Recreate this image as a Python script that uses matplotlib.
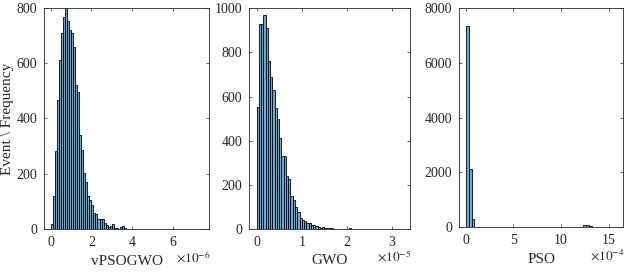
import numpy as np
import matplotlib
matplotlib.use("Agg")
import matplotlib.pyplot as plt

# histogram counts (x values in units of the axis multiplier)
vpso_start, vpso_width = 0.0, 0.1
vpso_counts = [19, 120, 282, 465, 612, 709, 767, 812, 751, 721, 709, 658, 522, 497,
               341, 287, 203, 170, 120, 104, 88, 58, 56, 37, 37, 37, 22, 13, 6, 10,
               19, 4, 3, 0, 7, 10, 2]

gwo_start, gwo_width = 0.0, 0.05
gwo_counts = [551, 931, 931, 972, 913, 763, 690, 632, 550, 500, 410, 330, 330, 238,
              225, 150, 130, 100, 75, 50, 38, 35, 25, 28, 15, 15, 12, 8, 5, 10, 5,
              3, 2, 2, 1, 0, 0, 0, 0, 0, 0, 3]

pso_start, pso_width = 0.0, 0.3
pso_counts = [7360, 2110, 280] + [0] * 38 + [85, 90, 40]

panels = [
    ("vPSOGWO", r"$\times10^{-6}$", vpso_start, vpso_width, vpso_counts,
     (-0.33, 7.8), [0, 2, 4, 6], (0, 800), [0, 200, 400, 600, 800]),
    ("GWO", r"$\times10^{-5}$", gwo_start, gwo_width, gwo_counts,
     (-0.17, 3.4), [0, 1, 2, 3], (0, 1000), [0, 200, 400, 600, 800, 1000]),
    ("PSO", r"$\times10^{-4}$", pso_start, pso_width, pso_counts,
     (-0.71, 16.5), [0, 5, 10, 15], (0, 8000), [0, 2000, 4000, 6000, 8000]),
]

boxes = [
    [0.0705, 0.158, 0.2650, 0.813],
    [0.3990, 0.159, 0.2581, 0.810],
    [0.7356, 0.165, 0.2630, 0.804],
]

plt.rcParams['font.family'] = ['Liberation Serif', 'DejaVu Serif']
plt.rcParams['mathtext.fontset'] = 'stix'

fig = plt.figure(figsize=(6.24, 2.72), dpi=100)
face = (0.40, 0.668, 0.845)

for box, (name, mult, start, width, counts, xl, xt, yl, yt) in zip(boxes, panels):
    ax = fig.add_axes(box)
    counts = np.array(counts)
    lefts = start + width * np.arange(len(counts))
    keep = counts > 0
    ax.bar(lefts[keep], counts[keep], width=width, align='edge',
           color=face, edgecolor='black', linewidth=0.6)
    ax.set_xlim(*xl)
    ax.set_ylim(*yl)
    ax.set_xticks(xt)
    ax.set_yticks(yt)
    ax.tick_params(direction='in', length=2.5, width=0.5, top=True, right=True,
                   labelsize=10, colors='#262626', pad=5)
    for s in ax.spines.values():
        s.set_linewidth(0.6)
        s.set_color('#262626')
    ax.set_xlabel(name, fontsize=11, color='#262626', labelpad=4)
    ax.text(1.01, -0.095, mult, transform=ax.transAxes, fontsize=9.5,
            color='#262626', ha='right', va='top')

fig.axes[0].set_ylabel("Event \\ Frequency", fontsize=11, color='#262626', labelpad=2)

fig.savefig("out.png", dpi=100)
